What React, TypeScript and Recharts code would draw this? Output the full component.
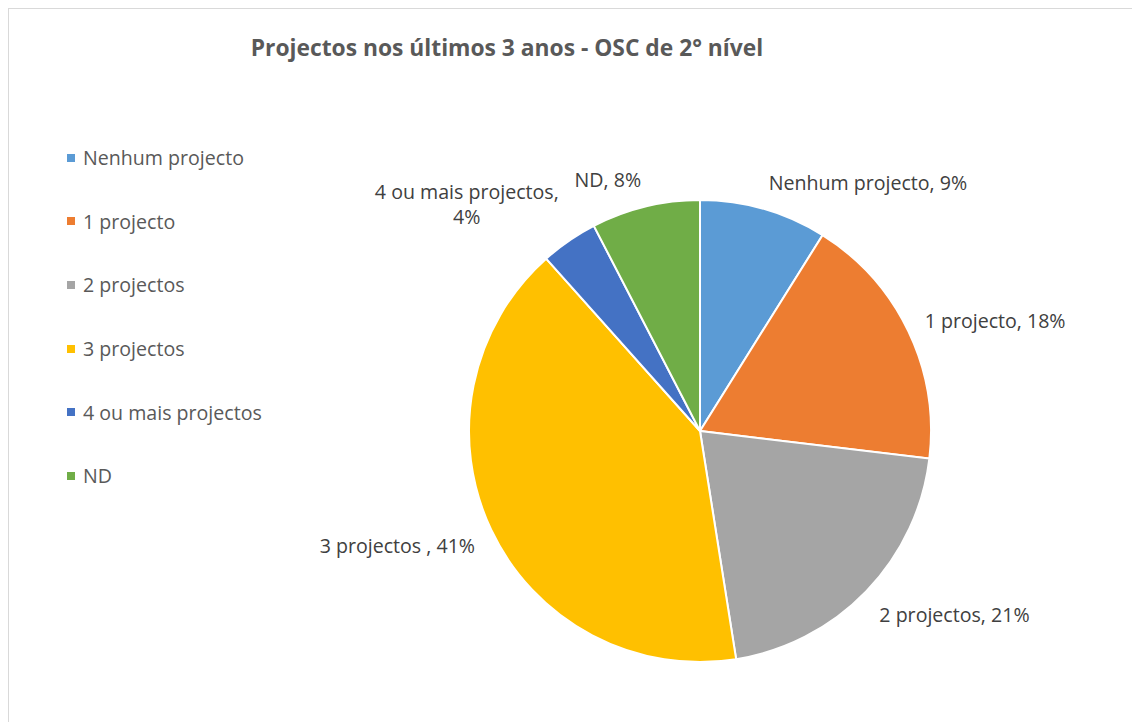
import React from "react";
import { PieChart, Pie, Cell } from "recharts";

const categories = ["Nenhum projecto", "1 projecto", "2 projectos", "3 projectos", "4 ou mais projectos", "ND"];
const values = [8.9, 18.0, 20.6, 40.9, 4.0, 7.6];
const labelTexts = [
  ["Nenhum projecto, 9%"],
  ["1 projecto, 18%"],
  ["2 projectos, 21%"],
  ["3 projectos , 41%"],
  ["4 ou mais projectos,", "4%"],
  ["ND, 8%"],
];
const colors = ["#5B9BD5", "#ED7D31", "#A5A5A5", "#FFC000", "#4472C4", "#70AD47"];
const title = "Projectos nos últimos 3 anos - OSC de 2° nível";

const data = categories.map((name, i) => ({ name, value: values[i] }));

const FONT = "'Open Sans', Lato, sans-serif";
const LABEL_SIZE = 19.6;
const LINE_H = 25;

let ctx: CanvasRenderingContext2D | null = null;
function measure(t: string): number {
  if (!ctx) {
    const c = document.createElement("canvas");
    ctx = c.getContext("2d");
  }
  if (!ctx) return t.length * 9;
  ctx.font = `${LABEL_SIZE}px 'Open Sans'`;
  return ctx.measureText(t).width;
}

const RAD = Math.PI / 180;

const renderLabel = (props: any) => {
  const { cx, cy, midAngle, outerRadius, index } = props;
  const r = outerRadius + 18;
  const a = -midAngle * RAD;
  const px = cx + r * Math.cos(a);
  const py = cy + r * Math.sin(a);
  const lines = labelTexts[index];
  const w = Math.max(...lines.map(measure));
  const h = lines.length * LINE_H;
  const left = Math.cos(a) >= 0 ? px : px - w;
  const upness = Math.sin(midAngle * RAD); // 1 at top, -1 at bottom
  const centerY = py - upness * (h / 2);
  const top = centerY - h / 2 + (lines.length > 1 ? 0 : 4);
  const midX = left + w / 2;
  return (
    <text
      x={midX}
      y={top}
      textAnchor="middle"
      fill="#404040"
      fontFamily={FONT}
      fontSize={LABEL_SIZE}
    >
      {lines.map((l, i) => (
        <tspan key={i} x={midX} y={top + LINE_H * i + LINE_H * 0.74}>
          {l}
        </tspan>
      ))}
    </text>
  );
};

export default function App() {
  return (
    <div
      style={{
        position: "relative",
        width: 1140,
        height: 730,
        border: "1px solid #d9d9d9",
        background: "#fff",
      }}
    >
      <div
        style={{
          position: "absolute",
          left: 0,
          width: 996,
          top: 23,
          textAlign: "center",
          fontFamily: FONT,
          fontWeight: 700,
          fontSize: 22.8,
          color: "#595959",
          whiteSpace: "nowrap",
        }}
      >
        {title}
      </div>
      <div
        style={{
          position: "absolute",
          left: 58,
          top: 117,
          fontFamily: FONT,
          fontSize: LABEL_SIZE,
          color: "#595959",
        }}
      >
        {categories.map((c, i) => (
          <div key={c} style={{ display: "flex", alignItems: "center", height: 63.6 }}>
            <span
              style={{ width: 8, height: 8, background: colors[i], display: "inline-block", marginRight: 8 }}
            />
            <span>{c}</span>
          </div>
        ))}
      </div>
      <PieChart
        width={1140}
        height={714}
        margin={{ top: 0, right: 0, bottom: 0, left: 0 }}
        style={{ position: "absolute", left: 0, top: 0 }}
      >
        <Pie
          data={data}
          dataKey="value"
          nameKey="name"
          cx={691}
          cy={422}
          outerRadius={231}
          startAngle={90}
          endAngle={-270}
          stroke="#ffffff"
          strokeWidth={2}
          label={renderLabel}
          labelLine={false}
          isAnimationActive={false}
        >
          {data.map((d, i) => (
            <Cell key={d.name} fill={colors[i]} />
          ))}
        </Pie>
      </PieChart>
    </div>
  );
}
